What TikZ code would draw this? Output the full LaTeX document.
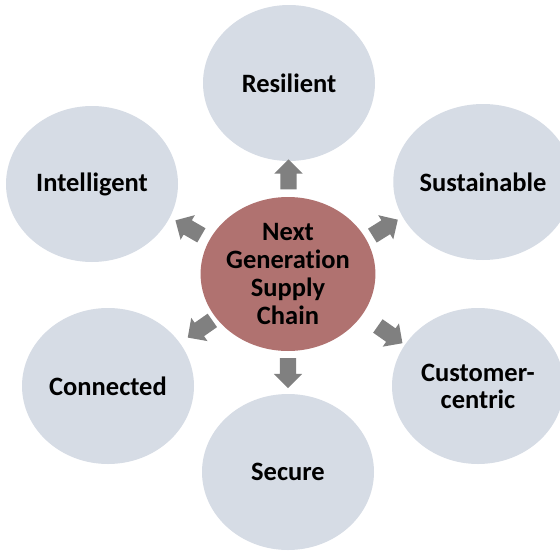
\documentclass[tikz,border=0pt]{standalone}
\usepackage{fontspec}
\setmainfont{Carlito}[Ligatures=NoCommon]
\usepackage{xcolor}
\usetikzlibrary{shapes.geometric,shapes.arrows,calc}

\definecolor{traitfill}{HTML}{D6DCE5}
\definecolor{hubfill}{HTML}{B07270}
\definecolor{pushgray}{HTML}{808080}

\begin{document}
\begin{tikzpicture}[
    x=1pt, y=-1pt,
    trait/.style={ellipse, fill=traitfill, minimum width=172pt, minimum height=156pt, inner sep=0pt, align=center, font=\fontsize{26.5}{27}\selectfont\bfseries},
    hub/.style={ellipse, fill=hubfill, minimum width=172pt, minimum height=154pt, inner sep=0pt, align=center, font=\fontsize{26.5}{28}\selectfont\bfseries},
    push/.style={single arrow, fill=pushgray, minimum height=30pt, minimum width=28pt, single arrow head extend=6pt, inner xsep=0pt, inner ysep=8pt}
]
    \useasboundingbox (0,0) rectangle (560,552);

    \node[hub] (hub) at (288,274) {Next\\Generation\\Supply\\Chain};

    \node[trait] (res) at (289,83) {Resilient};
    \node[trait] (sus) at (483,182) {Sustainable};
    \node[trait] (cus) at (478,386) {Customer-\\centric};
    \node[trait] (sec) at (288,472) {Secure};
    \node[trait] (con) at (108,386) {Connected};
    \node[trait] (int) at (92,184) {Intelligent};

    \node[push, rotate=90] (pres) at ($(hub)!0.5!(res)$) {};
    \node[push, rotate=32] (psus) at ($(hub)!0.48!(sus)$) {};
    \node[push, rotate=-35] (pcus) at ($(hub)!0.52!(cus)$) {};
    \node[push, rotate=-90] (psec) at ($(hub)!0.48!(sec)$) {};
    \node[push, rotate=-145] (pcon) at ($(hub)!0.47!(con)$) {};
    \node[push, rotate=150] (pint) at ($(hub)!0.49!(int)$) {};
\end{tikzpicture}
\end{document}
